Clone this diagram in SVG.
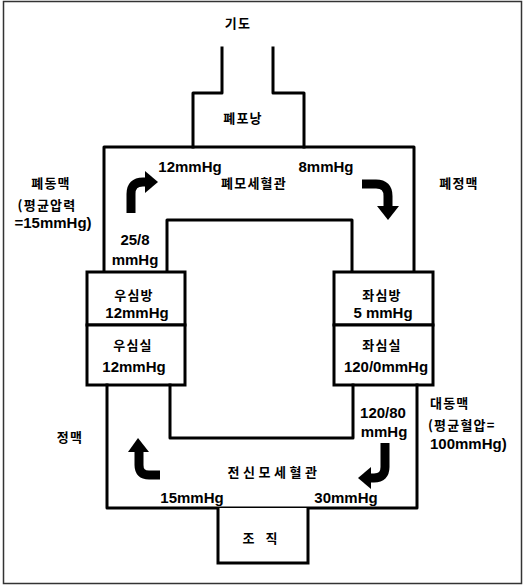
<svg xmlns="http://www.w3.org/2000/svg" width="525" height="585" viewBox="0 0 525 585">
<style>
.ln{fill:none;stroke:#000;stroke-width:3;stroke-linejoin:round;stroke-linecap:square}
.box{fill:#fff;stroke:#000;stroke-width:3}
.t{font-family:"Liberation Sans","Noto Sans CJK KR",sans-serif;font-weight:bold;font-size:15px;fill:#000;text-anchor:middle}
.k{font-family:"Noto Sans CJK KR","Liberation Sans",sans-serif;font-weight:bold;font-size:13px;letter-spacing:1.2px;fill:#000;text-anchor:middle}
.l{text-anchor:start}
.sh{fill:none;stroke:#000;stroke-width:9}
.hd{fill:#000}
</style>
<rect x="3.5" y="1.5" width="518" height="582" fill="#fff" stroke="#333" stroke-width="1.5"/>

<g id="airway">
<path class="ln" d="M222,48 V93 H193 V147"/>
<path class="ln" d="M273,48 V93 H304 V147"/>
<text class="k" x="238" y="28">기도</text>
</g>

<g id="alveoli">
<text class="k" x="243" y="123">폐포낭</text>
</g>

<g id="pulmonary-circuit">
<path class="ln" d="M104,272 V147 H414 V272"/>
<path class="ln" d="M167,272 V220 H352 V272"/>
<text class="t" x="190" y="172">12mmHg</text>
<text class="t" x="326" y="172">8mmHg</text>
<text class="k" x="254" y="188">폐모세혈관</text>
<text class="k" x="51" y="188">폐동맥</text>
<text class="k" x="47" y="210">(평균압력</text>
<text class="t" x="53" y="228">=15mmHg)</text>
<text class="k" x="459" y="188">폐정맥</text>
<text class="t" x="135" y="245">25/8</text>
<text class="t" x="135" y="265">mmHg</text>
</g>

<g id="right-atrium">
<rect class="box" x="87" y="272" width="98" height="53"/>
<text class="k" x="134" y="300">우심방</text>
<text class="t" x="137" y="318">12mmHg</text>
</g>

<g id="right-ventricle">
<rect class="box" x="87" y="325" width="98" height="60"/>
<text class="k" x="133" y="350">우심실</text>
<text class="t" x="134" y="372">12mmHg</text>
</g>

<g id="left-atrium">
<rect class="box" x="334" y="272" width="99" height="53"/>
<text class="k" x="382" y="300">좌심방</text>
<text class="t" x="383" y="318">5 mmHg</text>
</g>

<g id="left-ventricle">
<rect class="box" x="334" y="325" width="99" height="60"/>
<text class="k" x="382" y="350">좌심실</text>
<text class="t" x="386" y="372">120/0mmHg</text>
</g>

<g id="systemic-circuit">
<path class="ln" d="M107,385 V508 H417 V385"/>
<path class="ln" d="M170,385 V438 H353 V385"/>
<text class="k" x="70" y="442">정맥</text>
<text class="k l" x="430" y="408">대동맥</text>
<text class="k l" x="428" y="430">(평균혈압=</text>
<text class="t l" x="430" y="449">100mmHg)</text>
<text class="t" x="383" y="418">120/80</text>
<text class="t" x="384" y="437">mmHg</text>
<text class="k" x="274" y="477" style="letter-spacing:3.5px">전신모세혈관</text>
<text class="t" x="192" y="503">15mmHg</text>
<text class="t" x="346" y="503">30mmHg</text>
</g>

<g id="tissue">
<path class="box" d="M218,508 V563 H308 V508"/>
<text class="k" x="262" y="543" style="letter-spacing:4px">조 직</text>
</g>

<g id="connectors">
<path class="sh" d="M131,213 V194 Q131,182 143,182 H147"/>
<polygon class="hd" points="145,171 158,182 145,193"/>
<path class="sh" d="M362,184 H376 Q388,184 388,196 V208"/>
<polygon class="hd" points="377,206 399,206 388,220"/>
<path class="sh" d="M160,475 H149 Q139,475 139,465 V451"/>
<polygon class="hd" points="128,452 149,452 138,438"/>
<path class="sh" d="M385,443 V467 Q385,478 374,478 H370"/>
<polygon class="hd" points="371,467 371,489 358,478"/>
</g>
</svg>
